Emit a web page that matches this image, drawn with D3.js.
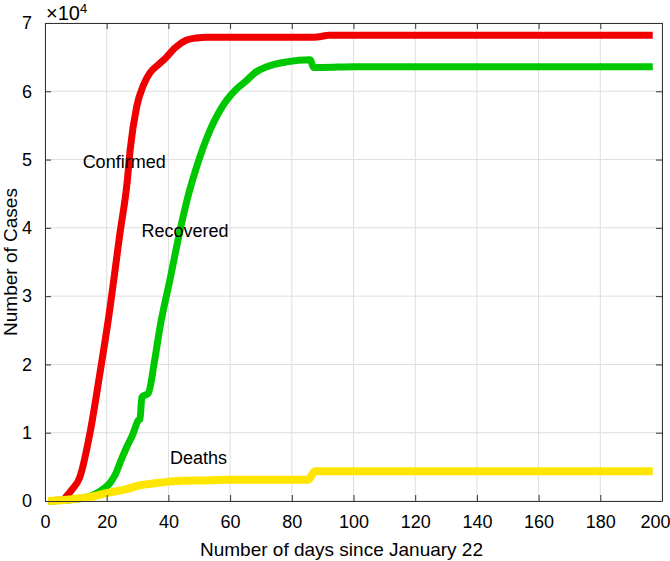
<!DOCTYPE html>
<html><head><meta charset="utf-8">
<script src="https://cdn.jsdelivr.net/npm/d3@7"></script>
<style>
html,body{margin:0;padding:0;background:#fff;}
text{font-family:"Liberation Sans",Arial,Helvetica,sans-serif;fill:#000;}
</style></head>
<body><svg id="c" width="670" height="561"></svg>
<script>
// ---- data ----
const confirmedDays = [1,4,6,7,8.6,11.3,14.6,17.8,20.5,24.3,26.7,27.6,29.7,32,34,37,39.4,42,45.9,49,52.4,60,70,80,86,89,92,100,150,197];
const confirmedVals = [0,100,250,700,1600,3500,10000,18700,26500,39200,47000,51400,57700,61000,62700,64000,65000,66300,67500,67800,67900,67900,67900,67900,67900,68000,68200,68200,68200,68200];
const recoveredDays = [1,9,12,15.7,19,21,22.7,24.5,26.5,28.5,30.2,30.8,31.4,33.5,35.5,37.3,40.5,43.8,46,49.2,53.5,58.9,62,65.4,68,71.9,78.3,86,87,90,100,150,197];
const recoveredVals = [0,200,400,900,1800,2600,3800,5800,7900,9800,11800,12000,15200,15800,20500,25500,32400,39700,44000,49000,54300,58700,60300,61600,62700,63600,64300,64600,63500,63500,63600,63600,63600];
const deathsDays = [1,5,11.3,16,20,26,30.8,35,39.4,45,50.2,60,66.4,80,85.3,87.5,100,150,197];
const deathsVals = [0,100,400,700,1150,1700,2300,2550,2800,2950,3000,3100,3100,3100,3100,4350,4350,4350,4350];
const xTicks = [0,20,40,60,80,100,120,140,160,180,200];
const yTicks = [0,10000,20000,30000,40000,50000,60000,70000];
const seriesNames = ["Confirmed","Recovered","Deaths"];
const seriesColors = ["#f00000","#00c800","#ffe600"];
const labelPos = [[12.2,49800],[31.3,39700],[40.5,6500]];

// ---- layout ----
const svg = d3.select("#c");
const L = 45, R = 662, T = 23, B = 501;
const x = d3.scaleLinear().domain([0,200]).range([L,R]);
const y = d3.scaleLinear().domain([0,70000]).range([B,T]);

// grid
const g = svg.append("g");
g.selectAll(".gx").data(xTicks).join("line")
  .attr("x1",d=>x(d)).attr("x2",d=>x(d)).attr("y1",T).attr("y2",B)
  .attr("stroke","#dedede").attr("stroke-width",1);
g.selectAll(".gy").data(yTicks).join("line")
  .attr("x1",L).attr("x2",R).attr("y1",d=>y(d)).attr("y2",d=>y(d))
  .attr("stroke","#dedede").attr("stroke-width",1);

// lines
const series = [
  confirmedDays.map((d,i)=>[d,confirmedVals[i]]),
  recoveredDays.map((d,i)=>[d,recoveredVals[i]]),
  deathsDays.map((d,i)=>[d,deathsVals[i]])
];
const line = d3.line().x(d=>x(d[0])).y(d=>y(d[1])).curve(d3.curveMonotoneX);
series.forEach((s,i)=>{
  svg.append("path").attr("d",line(s)).attr("fill","none")
    .attr("stroke",seriesColors[i]).attr("stroke-width",i===2?8:7)
    .attr("stroke-linejoin","round").attr("stroke-linecap","butt");
});

// axes (box with inward ticks)
const fs = "18px";
const ax = d3.axisBottom(x).tickValues(xTicks).tickSizeInner(-6).tickSizeOuter(0).tickPadding(14);
const axB = svg.append("g").attr("transform",`translate(0,${B})`).call(ax);
const axT = svg.append("g").attr("transform",`translate(0,${T})`).call(d3.axisTop(x).tickValues(xTicks).tickSizeInner(-6).tickSizeOuter(0).tickFormat(""));
const ay = d3.axisLeft(y).tickValues(yTicks).tickSizeInner(-6).tickSizeOuter(0).tickPadding(13).tickFormat(d=>d/10000);
const axL = svg.append("g").attr("transform",`translate(${L},0)`).call(ay);
const axR = svg.append("g").attr("transform",`translate(${R},0)`).call(d3.axisRight(y).tickValues(yTicks).tickSizeInner(-6).tickSizeOuter(0).tickFormat(""));
[axB,axT,axL,axR].forEach(a=>{
  a.select(".domain").attr("stroke","#333").attr("stroke-width",1);
  a.selectAll(".tick line").attr("stroke","#333");
  a.selectAll(".tick text").attr("font-size",fs).attr("font-family","Liberation Sans, Arial, sans-serif").attr("fill","#000");
});
// last x label kept inside the picture
axB.selectAll(".tick text").filter(d=>d===200).attr("text-anchor","end").attr("x",8);

// ×10^4
const ex = svg.append("text").attr("x",46).attr("y",20).attr("font-size","20px");
ex.append("tspan").text("×10");
ex.append("tspan").attr("font-size","13px").attr("dy",-7).text("4");

// axis titles
svg.append("text").attr("x",(L+R)/2 - 12).attr("y",556).attr("text-anchor","middle")
  .attr("font-size","19px").text("Number of days since January 22");
svg.append("text").attr("transform",`translate(17,${(T+B)/2}) rotate(-90)`).attr("text-anchor","middle")
  .attr("font-size","19px").text("Number of Cases");

// series annotations
seriesNames.forEach((n,i)=>{
  svg.append("text").attr("x",x(labelPos[i][0])).attr("y",y(labelPos[i][1])+7)
    .attr("font-size","18px").text(n);
});
</script></body></html>
